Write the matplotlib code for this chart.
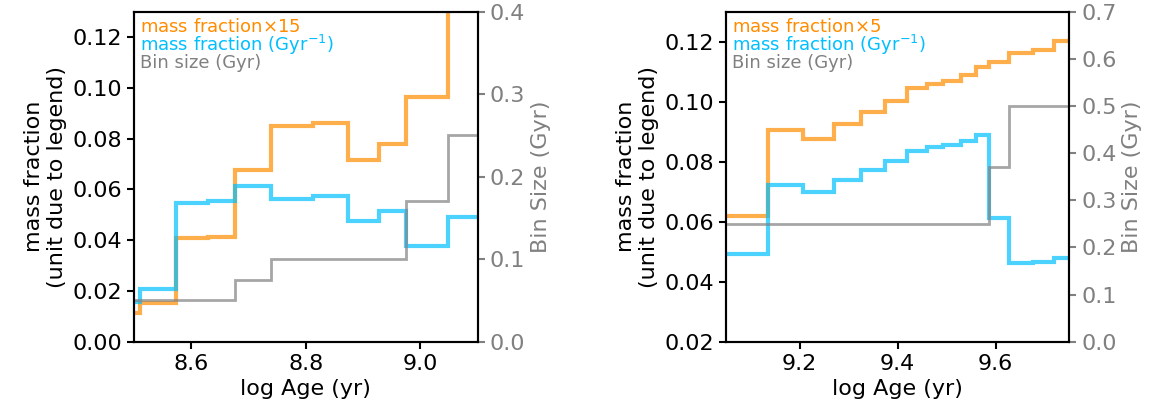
import numpy as np
import matplotlib
matplotlib.use("Agg")
import matplotlib.pyplot as plt

# left panel: young bins
left_edges = [8.47, 8.510, 8.573, 8.629, 8.676, 8.7395, 8.812, 8.873, 8.927, 8.975, 9.048, 9.14]
left_mf15 = [0.0112, 0.0151, 0.0408, 0.0414, 0.0677, 0.0850, 0.0863, 0.0716, 0.0778, 0.0966, 0.150]
left_mfgyr = [0.0158, 0.0206, 0.0548, 0.0555, 0.0615, 0.0563, 0.0574, 0.0477, 0.0516, 0.0377, 0.0493]
left_bin = [0.05, 0.05, 0.05, 0.05, 0.075, 0.10, 0.10, 0.10, 0.10, 0.17, 0.25]

# right panel: older bins
right_edges = [9.0, 9.1348, 9.208, 9.2707, 9.3257, 9.3745, 9.4187, 9.4595, 9.4933,
               9.5287, 9.5599, 9.587, 9.6277, 9.6753, 9.7187, 9.80]
right_mf5 = [0.0620, 0.0906, 0.0876, 0.0925, 0.0967, 0.1003, 0.1046, 0.1059, 0.1070,
             0.1090, 0.1116, 0.1133, 0.1161, 0.1172, 0.1203]
right_mfgyr = [0.0492, 0.0721, 0.0698, 0.0739, 0.0772, 0.0803, 0.0837, 0.0848, 0.0856,
               0.0870, 0.0889, 0.0613, 0.0463, 0.0467, 0.0480]
right_bin = [0.25] * 11 + [0.37, 0.5, 0.5, 0.5]

plt.rcParams['font.size'] = 16

fig = plt.figure(figsize=(11.62, 4.2), dpi=100)
ax1 = fig.add_axes([0.1153, 0.1864, 0.2958, 0.7857])
ax2 = fig.add_axes([0.6248, 0.1864, 0.2954, 0.7857])


def panel(ax, edges, mf, mfgyr, binsize, factor, xlim, ylim, ylim2, xticks, yticks, y2ticks):
    ax.stairs(mf, edges, baseline=None, color='darkorange', alpha=0.7, lw=3,
              label='mass fraction$\\times$%d' % factor)
    ax.stairs(mfgyr, edges, baseline=None, color='deepskyblue', alpha=0.7, lw=3,
              label='mass fraction (Gyr$^{-1}$)')
    ax.plot([], [], color='gray', label='Bin size (Gyr)')
    ax.set_xlim(*xlim)
    ax.set_ylim(*ylim)
    ax.set_xticks(xticks)
    ax.set_yticks(yticks)
    ax.set_xlabel('log Age (yr)')
    ax.set_ylabel('mass fraction\n(unit due to legend)')
    for s in ax.spines.values():
        s.set_linewidth(1.5)
    ax.tick_params(length=5, width=1.5)

    tw = ax.twinx()
    tw.stairs(binsize, edges, baseline=None, color='gray', alpha=0.7, lw=2)
    tw.set_ylim(*ylim2)
    tw.set_yticks(y2ticks)
    tw.set_ylabel('Bin Size (Gyr)', color='gray')
    tw.tick_params(axis='y', colors='gray', length=5, width=1.5)
    for s in tw.spines.values():
        s.set_linewidth(1.5)

    leg = ax.legend(loc='upper left', frameon=False, handlelength=0, handletextpad=0,
                    fontsize=13, labelspacing=-0.18, borderaxespad=0.05, borderpad=0.3)
    for h in leg.legend_handles:
        h.set_visible(False)
    for t, c in zip(leg.get_texts(), ['darkorange', 'deepskyblue', 'gray']):
        t.set_color(c)
    leg.set_zorder(10)
    return tw


panel(ax1, left_edges, left_mf15, left_mfgyr, left_bin, 15, (8.5, 9.1), (0, 0.13), (0, 0.4),
      [8.6, 8.8, 9.0], np.arange(0, 0.121, 0.02), np.arange(0, 0.41, 0.1))
panel(ax2, right_edges, right_mf5, right_mfgyr, right_bin, 5, (9.05, 9.75), (0.02, 0.13), (0, 0.7),
      [9.2, 9.4, 9.6], np.arange(0.02, 0.121, 0.02), np.arange(0, 0.71, 0.1))

fig.savefig('out.png', dpi=100)
